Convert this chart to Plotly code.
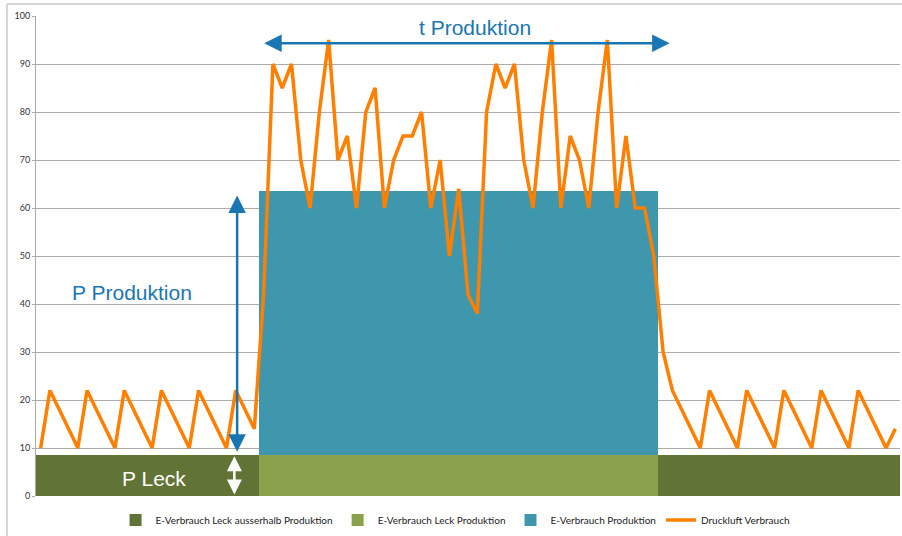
import plotly.graph_objects as go

# ---- data ----
periods = list(range(1, 94))  # 93 time steps (categories, unlabeled)

leak_outside = [8.5] * 24 + [None] * 43 + [8.5] * 26
leak_prod = [None] * 24 + [8.5] * 43 + [None] * 26
e_prod = [None] * 24 + [55] * 43 + [None] * 26

druckluft = [
    10, 22, 18, 14, 10, 22, 18, 14, 10, 22, 18, 14, 10, 22, 18, 14, 10, 22, 18, 14,
    10, 22, 18, 14, 42, 90, 85, 90, 70, 60, 80, 95, 70, 75, 60, 80, 85, 60, 70, 75,
    75, 80, 60, 70, 50, 64, 42, 38, 80, 90, 85, 90, 70, 60, 80, 95, 60, 75, 70, 60,
    80, 95, 60, 75, 60, 60, 50, 30, 22, 18, 14, 10, 22, 18, 14, 10, 22, 18, 14, 10,
    22, 18, 14, 10, 22, 18, 14, 10, 22, 18, 14, 10, 14,
]

y_ticks = [0, 10, 20, 30, 40, 50, 60, 70, 80, 90, 100]

names = [
    "E-Verbrauch Leck ausserhalb Produktion",
    "E-Verbrauch Leck Produktion",
    "E-Verbrauch Produktion",
    "Druckluft Verbrauch",
]

# ---- styles ----
C_DARK = "#627336"
C_LIGHT = "#8BA14B"
C_TEAL = "#3E97AC"
C_ORANGE = "#FF7F00"
C_BLUE = "#1A76B2"
GRID = "#ABABAB"

fig = go.Figure()
for vals, name, col in [(leak_outside, names[0], C_DARK),
                        (leak_prod, names[1], C_LIGHT),
                        (e_prod, names[2], C_TEAL)]:
    fig.add_trace(go.Bar(x=periods, y=vals, name=name, marker_color=col,
                         marker_line_width=0, width=1))

fig.add_trace(go.Scatter(x=periods, y=druckluft, name=names[3], mode="lines",
                         line=dict(color=C_ORANGE, width=3.5)))


def cx(i):
    return periods[0] + i


anns = [
    dict(x=cx(67.7), y=94.3, ax=cx(23.9), ay=94.3, axref="x", ayref="y",
         xref="x", yref="y", text="", showarrow=True, arrowhead=2, arrowside="end+start",
         arrowwidth=2.5, arrowsize=1.4, arrowcolor=C_BLUE, standoff=0, startstandoff=0),
    dict(x=cx(21.15), y=62.6, ax=cx(21.15), ay=8.9, axref="x", ayref="y",
         xref="x", yref="y", text="", showarrow=True, arrowhead=2, arrowside="end+start",
         arrowwidth=2.5, arrowsize=1.4, arrowcolor=C_BLUE, standoff=0, startstandoff=0),
    dict(x=cx(20.85), y=8.3, ax=cx(20.85), ay=0.0, axref="x", ayref="y",
         xref="x", yref="y", text="", showarrow=True, arrowhead=2, arrowside="end+start",
         arrowwidth=2.5, arrowsize=1.2, arrowcolor="white", standoff=0, startstandoff=0),
    dict(x=cx(46.8), y=97.7, xref="x", yref="y", text="t Produktion", showarrow=False,
         font=dict(family="Liberation Sans", size=21, color=C_BLUE)),
    dict(x=cx(9.83), y=42.3, xref="x", yref="y", text="P Produktion", showarrow=False,
         font=dict(family="Liberation Sans", size=21, color=C_BLUE)),
    dict(x=cx(12.2), y=3.75, xref="x", yref="y", text="P Leck", showarrow=False,
         font=dict(family="Liberation Sans", size=21, color="white")),
]

fig.update_layout(
    width=902, height=536,
    margin=dict(l=36, r=2, t=16, b=40),
    paper_bgcolor="white", plot_bgcolor="white",
    barmode="stack", bargap=0,
    showlegend=True,
    legend=dict(orientation="h", x=0.485, xanchor="center", y=-0.05, yanchor="middle",
                font=dict(family="Lato", size=10, color="#222222"), traceorder="normal"),
    annotations=anns,
    xaxis=dict(range=[periods[0] - 0.5, periods[-1] + 0.5], showticklabels=False,
               showgrid=False, zeroline=False, showline=False, ticks=""),
    yaxis=dict(range=[0, 100], tickvals=y_ticks, showgrid=True, gridcolor=GRID,
               gridwidth=1, zeroline=False, showline=True, linecolor=GRID, linewidth=1,
               ticks="outside", ticklen=3, tickcolor=GRID,
               tickfont=dict(family="Lato", size=9, color="#333333")),
    shapes=[
        dict(type="line", xref="paper", yref="paper", x0=-0.0336, x1=1.01, y0=1.025, y1=1.025,
             line=dict(color="#C8C8C8", width=1.5)),
        dict(type="line", xref="paper", yref="paper", x0=-0.0336, x1=-0.0336, y0=-0.1, y1=1.025,
             line=dict(color="#C8C8C8", width=1.5)),
    ],
)

fig.write_html("out.html", config={"displayModeBar": False},
               post_script="document.body.style.margin='0';")
